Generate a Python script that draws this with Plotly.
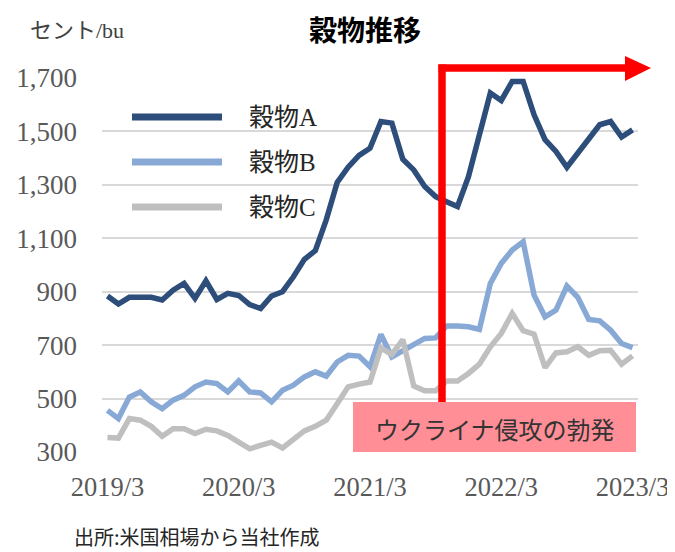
import plotly.graph_objects as go
import pandas as pd

# ---- data ----
months = [f"{d.year}/{d.month}" for d in pd.date_range("2019-03-01", "2023-03-01", freq="MS")]
tick_labels = ["2019/3", "2020/3", "2021/3", "2022/3", "2023/3"]
series_names = ["穀物A", "穀物B", "穀物C"]
grain_a = [884, 854, 879, 881, 879, 869, 906, 931, 875, 941, 871, 894, 886, 852, 837, 884, 900, 956,
           1021, 1054, 1169, 1309, 1366, 1410, 1437, 1537, 1531, 1396, 1356, 1294, 1256, 1237, 1219,
           1331, 1487, 1644, 1616, 1687, 1687, 1562, 1469, 1425, 1366, 1419, 1469, 1525, 1537, 1479, 1506]
grain_b = [456, 425, 506, 525, 488, 462, 494, 512, 544, 562, 556, 525, 566, 525, 521, 488, 531, 550,
           581, 600, 584, 637, 662, 659, 619, 740, 656, 679, 704, 725, 727, 772, 772, 769, 759, 931,
           1006, 1056, 1087, 887, 806, 831, 921, 879, 796, 791, 756, 706, 691]
grain_c = [354, 352, 425, 419, 396, 359, 387, 387, 369, 385, 379, 362, 337, 312, 325, 337, 315, 350,
           379, 396, 419, 481, 544, 554, 562, 690, 665, 721, 547, 529, 529, 566, 566, 594, 629, 694,
           744, 819, 754, 741, 616, 671, 675, 694, 662, 679, 681, 629, 660]
y_ticks = [300, 500, 700, 900, 1100, 1300, 1500, 1700]

colors = ["#2D4E7A", "#88A9D6", "#BFBFBF"]
serif = "Liberation Serif, Noto Sans CJK JP, serif"
gothic = "Noto Sans CJK JP, sans-serif"

fig = go.Figure()
for name, vals, col in zip(series_names, [grain_a, grain_b, grain_c], colors):
    fig.add_trace(go.Scatter(x=months, y=vals, mode="lines", name=name,
                             line=dict(color=col, width=5.5), showlegend=False))

# page offset (body margin) and plot area in screen pixels: x 102..638, y 78..452
OFF = 8
FW, FH = 675 - OFF, 552 - OFF
L, R, T, B = 102 - OFF, 638 - OFF, 78 - OFF, 452 - OFF
W, H = R - L, B - T
px = lambda x: (x - OFF - L) / W
py = lambda y: (B - (y - OFF)) / H

shapes = []
# legend samples
for i, col in enumerate(colors):
    yy = 117 + 45 * i
    shapes.append(dict(type="line", xref="paper", yref="paper", x0=px(132), x1=px(222),
                       y0=py(yy), y1=py(yy), line=dict(color=col, width=7)))
# pink box
shapes.append(dict(type="rect", xref="paper", yref="paper", x0=px(353), x1=px(636),
                   y0=py(402), y1=py(452), fillcolor="#FF8E96", line=dict(width=0), layer="above"))
# red lines and arrow
shapes.append(dict(type="line", xref="paper", yref="paper", x0=px(442), x1=px(442),
                   y0=py(402), y1=py(64.5), line=dict(color="#FF0000", width=7.5), layer="above"))
shapes.append(dict(type="line", xref="paper", yref="paper", x0=px(438.5), x1=px(628),
                   y0=py(68), y1=py(68), line=dict(color="#FF0000", width=7.5), layer="above"))
shapes.append(dict(type="path", xref="paper", yref="paper",
                   path=f"M{px(625)},{py(56)} L{px(651)},{py(68)} L{px(625)},{py(81)} Z",
                   fillcolor="#FF0000", line=dict(width=0), layer="above"))

annotations = []
for i, name in enumerate(series_names):
    annotations.append(dict(x=px(247), y=py(117 + 45 * i), xref="paper", yref="paper",
                            text=name, showarrow=False, xanchor="left", yanchor="middle",
                            font=dict(family=serif, size=25, color="#262626")))
annotations.append(dict(x=px(494.5), y=py(428), xref="paper", yref="paper",
                        text="ウクライナ侵攻の勃発", showarrow=False,
                        xanchor="center", yanchor="middle",
                        font=dict(family=gothic, size=24, color="#333333")))
annotations.append(dict(x=px(28), y=py(31), xref="paper", yref="paper", text="セント/bu",
                        showarrow=False, xanchor="left", yanchor="middle",
                        font=dict(family=serif, size=22, color="#404040")))
annotations.append(dict(x=px(365), y=py(OFF), xref="paper", yref="paper", text="<b>穀物推移</b>",
                        showarrow=False, xanchor="center", yanchor="top", borderpad=0,
                        font=dict(family=gothic, size=28, color="#000000")))
annotations.append(dict(x=px(72), y=py(536), xref="paper", yref="paper",
                        text="出所:米国相場から当社作成", showarrow=False,
                        xanchor="left", yanchor="middle",
                        font=dict(family=gothic, size=20, color="#262626")))

fig.update_layout(
    width=FW, height=FH,
    margin=dict(l=L, r=FW - R, t=T, b=FH - B, pad=0, autoexpand=False),
    paper_bgcolor="white", plot_bgcolor="white",
    shapes=shapes, annotations=annotations,
    xaxis=dict(type="category", range=[-0.5, len(months) - 0.5], tickvals=tick_labels,
               ticktext=tick_labels, showgrid=False, zeroline=False, showline=False,
               ticks="", ticklabelstandoff=16, automargin=False,
               tickfont=dict(family=serif, size=26.5, color="#595959")),
    yaxis=dict(range=[300, 1700], tickvals=y_ticks, tickformat=",d", showgrid=True,
               gridcolor="#D9D9D9", gridwidth=1.5, zeroline=False, showline=False,
               ticks="", ticklabelstandoff=24, automargin=False,
               tickfont=dict(family=serif, size=27, color="#595959")),
)

fig.write_html("out.html")
